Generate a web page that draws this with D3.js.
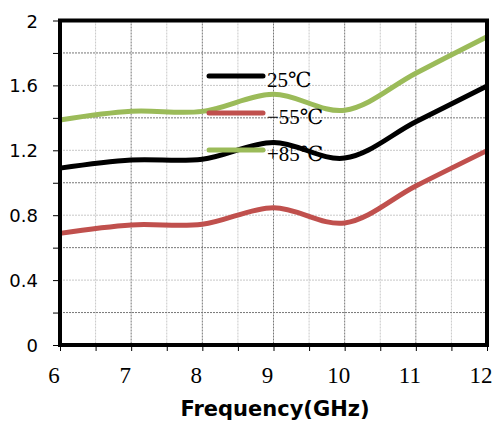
<!DOCTYPE html>
<html>
<head>
<meta charset="utf-8">
<script src="https://cdn.jsdelivr.net/npm/d3@7"></script>
<style>
  body { margin: 0; background: #fff; }
  svg { display: block; }
</style>
</head>
<body>
<div id="chart"></div>
<script>
// data (1 GHz steps, smoothed like the original)
const freq = [6, 7, 8, 9, 10, 11, 12];
const t25 = [1.09, 1.14, 1.145, 1.248, 1.152, 1.376, 1.596];
const tm55 = [0.688, 0.74, 0.744, 0.846, 0.752, 0.98, 1.198];
const tp85 = [1.387, 1.44, 1.44, 1.545, 1.447, 1.675, 1.90];
const seriesNames = ["25℃", "−55℃", "+85℃"];
const seriesColors = ["#000000", "#c0504d", "#9bbb59"];
const xTicks = [6, 7, 8, 9, 10, 11, 12];
const yTicks = [0, 0.4, 0.8, 1.2, 1.6, 2];

const W = 494, H = 425;
const margin = { top: 20.5, right: 7, bottom: 80, left: 60 },
      width = W - margin.left - margin.right,
      height = H - margin.top - margin.bottom;

const svg = d3.select("#chart")
  .append("svg")
    .attr("width", W)
    .attr("height", H);

const g = svg.append("g")
    .attr("transform", `translate(${margin.left},${margin.top})`);

const x = d3.scaleLinear().domain([6, 12]).range([0, width]);
const y = d3.scaleLinear().domain([0, 2]).range([height, 0]);

// grid: half steps lighter, alternate lines darker
const xGrid = d3.range(6.5, 12, 0.5);
g.selectAll(".vgrid")
  .data(xGrid)
  .enter().append("line")
    .attr("x1", d => x(d)).attr("x2", d => x(d))
    .attr("y1", 0).attr("y2", height)
    .attr("stroke", d => Number.isInteger(d) ? "#777" : "#c8c8c8")
    .attr("stroke-width", 1)
    .attr("stroke-dasharray", "2,1");

const yGrid = d3.range(1, 10).map(i => i * 0.2);
g.selectAll(".hgrid")
  .data(yGrid)
  .enter().append("line")
    .attr("x1", 0).attr("x2", width)
    .attr("y1", d => y(d)).attr("y2", d => y(d))
    .attr("stroke", (d, i) => i % 2 === 0 ? "#777" : "#c8c8c8")
    .attr("stroke-width", 1)
    .attr("stroke-dasharray", "2,1");

// curves
const allSeries = [t25, tm55, tp85];
const line = d3.line()
    .x((d, i) => x(freq[i]))
    .y(d => y(d))
    .curve(d3.curveCatmullRom.alpha(0.5));

g.selectAll(".series")
  .data(allSeries)
  .enter().append("path")
    .attr("fill", "none")
    .attr("stroke", (d, i) => seriesColors[i])
    .attr("stroke-width", 5)
    .attr("d", line);

// axis ticks
const xAxis = g.append("g")
    .attr("transform", `translate(0,${height})`)
    .call(d3.axisBottom(x).tickValues(d3.range(6, 12.01, 0.5)).tickSize(6).tickFormat(""));
xAxis.select(".domain").remove();
xAxis.selectAll("line").attr("stroke", "#000").attr("stroke-width", 1);

const yAxis = g.append("g")
    .call(d3.axisLeft(y).tickValues(d3.range(0, 2.01, 0.2)).tickSize(7).tickFormat(""));
yAxis.select(".domain").remove();
yAxis.selectAll("line").attr("stroke", "#000").attr("stroke-width", 1);

// tick labels
g.selectAll(".xlab")
  .data(xTicks)
  .enter().append("text")
    .attr("x", d => x(d) - 6)
    .attr("y", height + 38)
    .attr("text-anchor", "middle")
    .style("font-family", "Liberation Serif, serif")
    .style("font-size", "23px")
    .text(d => d);

g.selectAll(".ylab")
  .data(yTicks)
  .enter().append("text")
    .attr("x", -22)
    .attr("y", d => y(d) + 7)
    .attr("text-anchor", "end")
    .style("font-family", "DejaVu Sans, sans-serif")
    .style("font-size", "18px")
    .text(d => d);

// frame
g.append("rect")
    .attr("x", 0).attr("y", 0)
    .attr("width", width).attr("height", height)
    .attr("fill", "none")
    .attr("stroke", "#000")
    .attr("stroke-width", 4);

// legend
const legend = svg.append("g").attr("transform", "translate(209,76)");
seriesNames.forEach((name, i) => {
  legend.append("line")
    .attr("x1", 0).attr("x2", 54)
    .attr("y1", i * 37).attr("y2", i * 37)
    .attr("stroke", seriesColors[i])
    .attr("stroke-width", 5)
    .attr("stroke-linecap", "round");
  legend.append("text")
    .attr("x", 58)
    .attr("y", i * 37 + 11)
    .style("font-family", "Liberation Serif, DejaVu Serif, serif")
    .style("font-size", "21px")
    .text(name);
});

// x label
svg.append("text")
    .attr("x", 275)
    .attr("y", 416)
    .attr("text-anchor", "middle")
    .style("font-family", "DejaVu Sans, sans-serif")
    .style("font-weight", "bold")
    .style("font-size", "21px")
    .text("Frequency(GHz)");
</script>
</body>
</html>
